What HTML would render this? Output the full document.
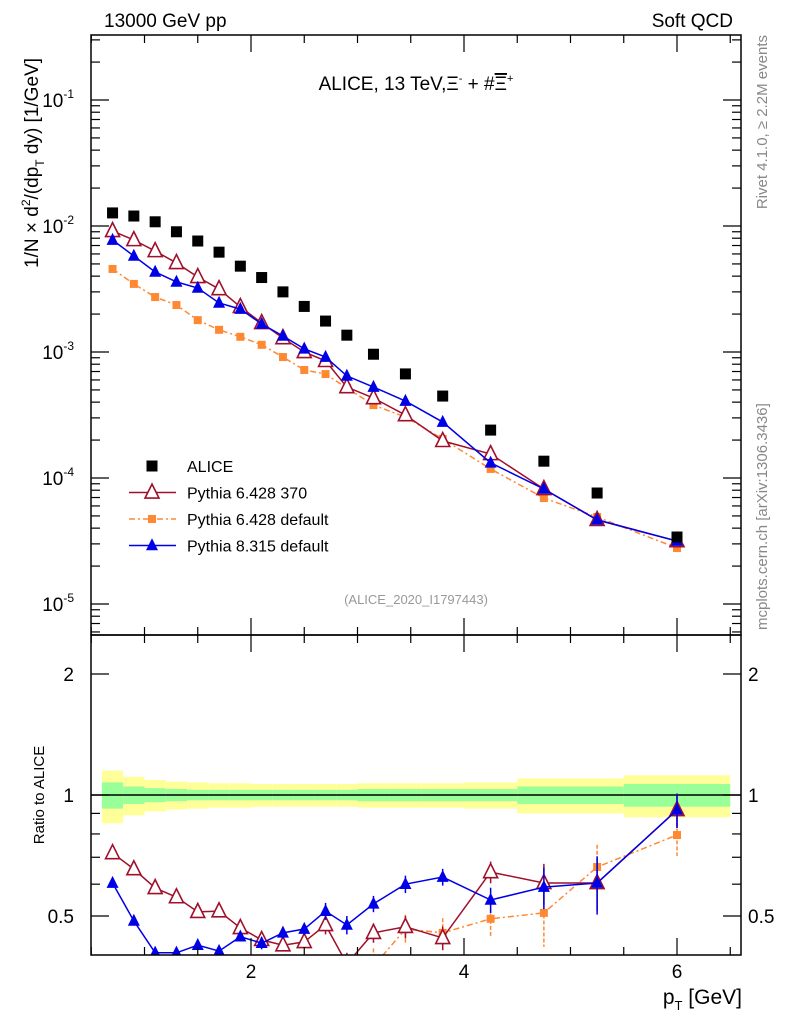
<!DOCTYPE html>
<html><head><meta charset="utf-8"><style>
html,body{margin:0;padding:0;background:#fff;}
svg{display:block;font-family:"Liberation Sans",sans-serif;}
</style></head><body>
<svg id="chart" width="786" height="1024" viewBox="0 0 786 1024" xmlns="http://www.w3.org/2000/svg">
<defs>
<clipPath id="ct"><rect x="91" y="35" width="650" height="600"/></clipPath>
<clipPath id="cr"><rect x="91" y="635" width="650" height="320"/></clipPath>
</defs>
<g id="bands" clip-path="url(#cr)"></g>
<g id="topMarks" clip-path="url(#ct)"></g>
<g id="botMarks" clip-path="url(#cr)"></g>
<g id="axes"></g>
<text x="104" y="27" font-size="19">13000 GeV pp</text>
<text x="733" y="27" font-size="19" text-anchor="end">Soft QCD</text>
<text x="416" y="90" font-size="19" text-anchor="middle">ALICE, 13 TeV,Ξ<tspan font-size="11" dy="-8">-</tspan><tspan dy="8"> + #</tspan><tspan text-decoration="overline">Ξ</tspan><tspan font-size="11" dy="-8">+</tspan></text>
<text transform="translate(767,35) rotate(-90)" font-size="15" fill="#888" text-anchor="end">Rivet 4.1.0, ≥ 2.2M events</text>
<text transform="translate(767,630) rotate(-90)" font-size="15" fill="#888">mcplots.cern.ch [arXiv:1306.3436]</text>
<text transform="translate(38,163) rotate(-90)" font-size="19" text-anchor="middle">1/N × d<tspan font-size="12" dy="-8">2</tspan><tspan dy="8">/(dp</tspan><tspan font-size="12" dy="6">T</tspan><tspan dy="-6"> dy) [1/GeV]</tspan></text>
<text transform="translate(44,795) rotate(-90)" font-size="15" text-anchor="middle">Ratio to ALICE</text>
<text x="742" y="1004" font-size="21" text-anchor="end">p<tspan font-size="13" dy="6">T</tspan><tspan dy="-6"> [GeV]</tspan></text>
<text x="416" y="604" font-size="13" fill="#999" text-anchor="middle">(ALICE_2020_I1797443)</text>
<g id="legend"></g>
</svg>
<script>
const xs = [0.7,0.9,1.1,1.3,1.5,1.7,1.9,2.1,2.3,2.5,2.7,2.9,3.15,3.45,3.8,4.25,4.75,5.25,6.0];
const alice = [0.0127,0.0120,0.0108,0.0090,0.0076,0.0062,0.0048,0.0039,0.0030,0.0023,0.00176,0.00136,0.00096,0.00067,0.000447,0.00024,0.000136,0.000076,0.000034];
const py370 = [0.00913,0.00774,0.00633,0.00509,0.00394,0.00316,0.00228,0.0017,0.00129,0.0010,0.00085,0.000527,0.000431,0.000316,0.000197,0.000155,0.0000818,0.0000465,0.0000316];
const py6def = [0.00456,0.00347,0.00273,0.00236,0.00179,0.0015,0.00132,0.00114,0.000912,0.00072,0.000668,0.000518,0.000379,0.000305,0.000204,0.000118,0.0000693,0.000049,0.0000278];
const py8 = [0.00774,0.00578,0.00432,0.0036,0.00322,0.00245,0.00219,0.00167,0.00134,0.00106,0.000912,0.000646,0.000527,0.000408,0.000278,0.000132,0.0000818,0.0000465,0.0000316];
const r370 = [0.717,0.654,0.587,0.557,0.512,0.514,0.467,0.436,0.423,0.431,0.475,0.38,0.454,0.470,0.441,0.643,0.604,0.604,0.918];
const r6def = [0.36,0.29,0.25,0.26,0.24,0.24,0.27,0.29,0.30,0.31,0.34,0.36,0.375,0.464,0.454,0.492,0.509,0.662,0.795];
const r8 = [0.604,0.486,0.405,0.405,0.423,0.409,0.444,0.428,0.454,0.464,0.514,0.475,0.536,0.600,0.625,0.548,0.590,0.604,0.918];
const r370err = [0.01,0.01,0.01,0.01,0.01,0.01,0.01,0.015,0.015,0.015,0.025,0.025,0.025,0.03,0.03,0.04,0.07,0.09,0.09];
const r6err = [0.02,0.02,0.02,0.02,0.02,0.02,0.02,0.02,0.03,0.03,0.04,0.04,0.04,0.04,0.04,0.05,0.09,0.09,0.09];
const r8err = [0.01,0.01,0.01,0.01,0.01,0.01,0.01,0.015,0.015,0.015,0.025,0.025,0.025,0.03,0.03,0.04,0.07,0.1,0.09];
const binEdges = [0.6,0.8,1.0,1.2,1.4,1.6,1.8,2.0,2.2,2.4,2.6,2.8,3.0,3.3,3.6,4.0,4.5,5.0,5.5,6.5];
const bandOuter = [0.15,0.11,0.09,0.08,0.075,0.07,0.07,0.065,0.065,0.065,0.065,0.065,0.07,0.07,0.07,0.075,0.10,0.10,0.12];
const bandInner = [0.075,0.05,0.04,0.035,0.03,0.03,0.03,0.03,0.03,0.03,0.03,0.03,0.035,0.035,0.035,0.035,0.05,0.05,0.065];
const xTicks = [2,4,6];
const yTickExps = [-1,-2,-3,-4,-5];
const rTicks = [2,1,0.5];

const NS="http://www.w3.org/2000/svg";
const L=91,R=741,T=35,M=635,B=955;
const X=v=>251+(v-2)*106.5;
const Y=v=>100-(Math.log10(v)+1)*126;
const RY=v=>795-Math.log2(v)*121;
function mk(tag,attrs,parent){const e=document.createElementNS(NS,tag);for(const k in attrs)e.setAttribute(k,attrs[k]);parent.appendChild(e);return e;}
const bandsG=document.getElementById('bands'),topG=document.getElementById('topMarks'),botG=document.getElementById('botMarks'),axesG=document.getElementById('axes'),legG=document.getElementById('legend');

for(let i=0;i<bandOuter.length;i++){
  const x0=X(binEdges[i]),x1=X(binEdges[i+1]);
  const o=mk('rect',{x:x0,y:RY(1+bandOuter[i]),width:x1-x0,height:RY(1-bandOuter[i])-RY(1+bandOuter[i]),fill:'#ffff99'},bandsG);
  
  
  const g=mk('rect',{x:x0,y:RY(1+bandInner[i]),width:x1-x0,height:RY(1-bandInner[i])-RY(1+bandInner[i]),fill:'#99ff99'},bandsG);
  
  
}
mk('line',{x1:L,x2:R,y1:RY(1),y2:RY(1),stroke:'#000','stroke-width':1.5},bandsG);

function marker(type,x,y,color,parent,size){
  if(type==='sq') return mk('rect',{x:x-size/2,y:y-size/2,width:size,height:size,fill:color},parent);
  const h=size;const pts=`${x},${y-h*0.6} ${x-h/2},${y+h*0.4} ${x+h/2},${y+h*0.4}`;
  return type==='otri'?mk('polygon',{points:pts,fill:'#fff',stroke:color,'stroke-width':1.6},parent):mk('polygon',{points:pts,fill:color},parent);
}
function series(parent,vals,yf,color,type,size,dash,name,errs){
  const g=mk('g',{},parent);
  
  
  const pts=xs.map((x,i)=>[X(x),yf(vals[i])]);
  if(color!=='#000'){
    const p=mk('polyline',{points:pts.map(p=>p.join(',')).join(' '),fill:'none',stroke:color,'stroke-width':1.5},g);
    if(dash)p.setAttribute('stroke-dasharray',dash);
  }
  pts.forEach((p,i)=>{
    if(errs){const e=errs[i];
      const l=mk('line',{x1:p[0],x2:p[0],y1:yf(vals[i]+e),y2:yf(Math.max(vals[i]-e,0.01)),stroke:color,'stroke-width':1.5},g);
      if(dash)l.setAttribute('stroke-dasharray','4,2');}
    const m=marker(type,p[0],p[1],color,g,size);
    
    
  });
}
series(topG,py6def,Y,'#ff8833','sq',8,'6,3,2,3','pythia6-default-main');
series(topG,py370,Y,'#a0102a','otri',14,null,'pythia6-370-main');
series(topG,py8,Y,'#0000e6','tri',12,null,'pythia8-main');
series(topG,alice,Y,'#000','sq',11,null,'alice-data');
series(botG,r6def,RY,'#ff8833','sq',8,'6,3,2,3','pythia6-default-ratio',r6err);
series(botG,r370,RY,'#a0102a','otri',14,null,'pythia6-370-ratio',r370err);
series(botG,r8,RY,'#0000e6','tri',12,null,'pythia8-ratio',r8err);

mk('rect',{x:L,y:T,width:R-L,height:M-T,fill:'none',stroke:'#000','stroke-width':1.5},axesG);
mk('rect',{x:L,y:M,width:R-L,height:B-M,fill:'none',stroke:'#000','stroke-width':1.5},axesG);
for(let v=0.5;v<=6.6;v+=0.5){
  const x=X(v);const major=xTicks.includes(v);const len=major?17:8;
  for(const [yb,yt] of [[M,T],[B,M]]){
    mk('line',{x1:x,x2:x,y1:yb,y2:yb-len,stroke:'#000','stroke-width':1.2},axesG);
    mk('line',{x1:x,x2:x,y1:yt,y2:yt+len,stroke:'#000','stroke-width':1.2},axesG);
  }
}
xTicks.forEach(v=>{const t=mk('text',{x:X(v),y:978,'font-size':19,'text-anchor':'middle'},axesG);t.textContent=v;
  
  });
for(let e=-6;e<=-1;e++){for(let k=1;k<=9;k++){const y=Y(k*Math.pow(10,e));if(y<T||y>M)continue;const len=k===1?18:9;
  mk('line',{x1:L,x2:L+len,y1:y,y2:y,stroke:'#000','stroke-width':1.2},axesG);
  mk('line',{x1:R,x2:R-len,y1:y,y2:y,stroke:'#000','stroke-width':1.2},axesG);}}
yTickExps.forEach(e=>{const t=mk('text',{x:74,y:Y(Math.pow(10,e))+7,'font-size':19,'text-anchor':'end'},axesG);
  t.innerHTML='10<tspan font-size="12" dy="-9">'+e+'</tspan>';
  
  });
[0.5,0.6,0.7,0.8,0.9,1,2].forEach(v=>{const y=RY(v);const len=[0.5,1,2].includes(v)?18:9;
  mk('line',{x1:L,x2:L+len,y1:y,y2:y,stroke:'#000','stroke-width':1.2},axesG);
  mk('line',{x1:R,x2:R-len,y1:y,y2:y,stroke:'#000','stroke-width':1.2},axesG);});
rTicks.forEach(v=>{for(const [x,a] of [[74,'end'],[748,'start']]){const t=mk('text',{x:x,y:RY(v)+7,'font-size':19,'text-anchor':a},axesG);t.textContent=v;
  
  }});
const items=[['ALICE','#000','sq',null,11],['Pythia 6.428 370','#a0102a','otri',null,14],['Pythia 6.428 default','#ff8833','sq','6,3,2,3',8],['Pythia 8.315 default','#0000e6','tri',null,12]];
items.forEach((it,i)=>{const y=466+i*26.5;const g=mk('g',{},legG);
  
  
  if(i>0){const l=mk('line',{x1:129,x2:176,y1:y,y2:y,stroke:it[1],'stroke-width':1.5},g);if(it[3])l.setAttribute('stroke-dasharray',it[3]);}
  marker(it[2],152,y,it[1],g,it[4]);
  const t=mk('text',{x:187,y:y+6,'font-size':16},g);t.textContent=it[0];});
</script>
</body></html>
